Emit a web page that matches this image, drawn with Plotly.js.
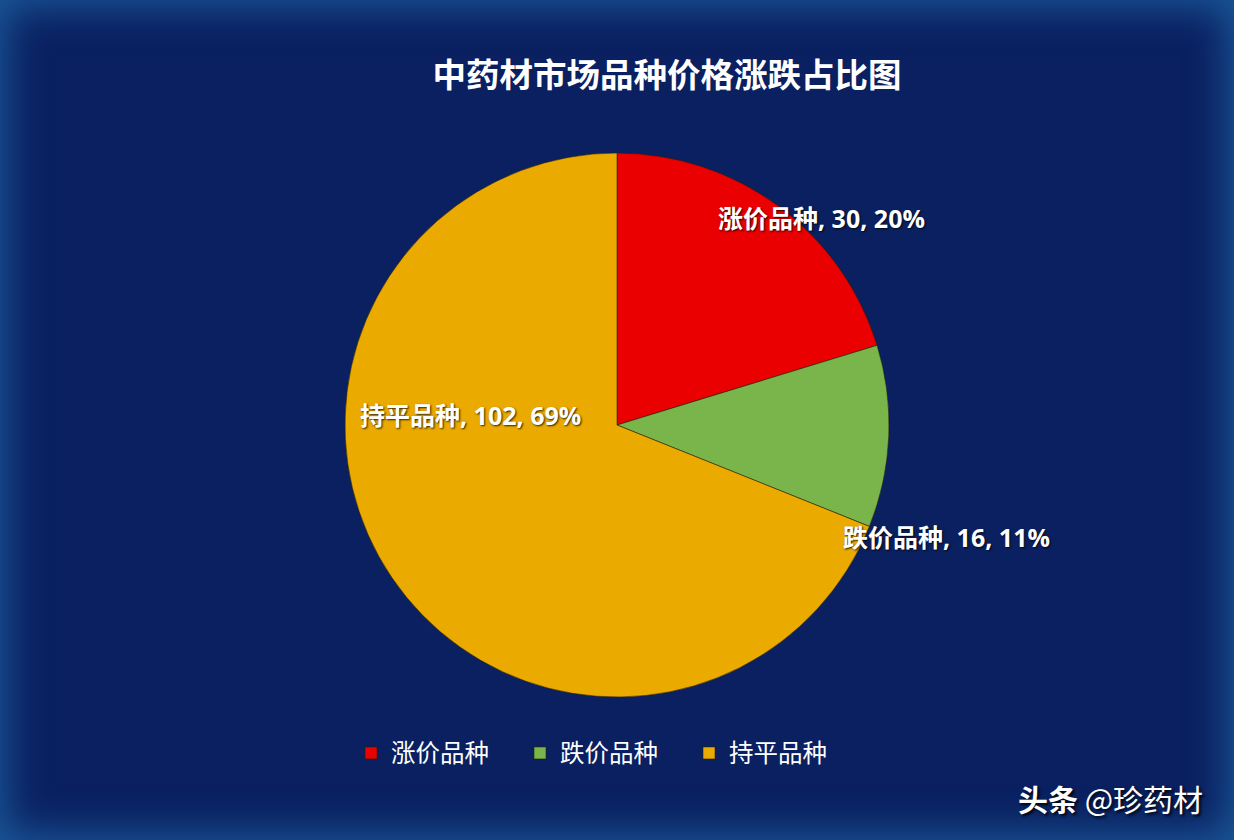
<!DOCTYPE html>
<html>
<head>
<meta charset="utf-8">
<script src="https://cdn.plot.ly/plotly-3.0.1.min.js"></script>
<style>
  html, body { margin: 0; padding: 0; }
  #wrap { position: relative; width: 1234px; height: 840px; background: #0a2060; box-shadow: inset 0 0 40px 6px #1b5a9b; overflow: hidden; }
  #chart { position: absolute; left: 0; top: 0; width: 1234px; height: 840px; }
</style>
</head>
<body>
<div id="wrap"><div id="chart"></div></div>
<script>
const categories = ['涨价品种', '跌价品种', '持平品种'];
const counts = [30, 16, 102];
const percentLabels = ['20%', '11%', '69%'];
const sliceColors = ['#ea0000', '#7ab54c', '#eaaa00'];
const titleText = '中药材市场品种价格涨跌占比图';
const watermarkBold = '头条';
const watermarkRest = '@珍药材';

const labelPos = [[821, 218], [946, 537], [470, 415]];
const W = 1234, H = 840;
const labelFont = '"Open Sans", "Noto Sans CJK SC", sans-serif';

const trace = {
  type: 'pie',
  labels: categories,
  values: counts,
  sort: false,
  direction: 'clockwise',
  rotation: 0,
  textinfo: 'none',
  hoverinfo: 'label+value+percent',
  marker: { colors: sliceColors, line: { color: 'rgba(40,30,0,0.55)', width: 1 } },
  domain: { x: [(617 - 272) / W, (617 + 272) / W], y: [(415 - 272) / H, (415 + 272) / H] }
};

const annotations = categories.map((c, i) => ({
  xref: 'paper', yref: 'paper',
  x: labelPos[i][0] / W, y: 1 - labelPos[i][1] / H,
  xanchor: 'center', yanchor: 'middle',
  showarrow: false,
  text: '<b>' + c + ', ' + counts[i] + ', ' + percentLabels[i] + '</b>',
  font: { family: labelFont, size: 25, color: '#ffffff', shadow: '1px 1px 2px rgba(0,0,0,0.8)' }
}));
annotations.push({
  xref: 'paper', yref: 'paper', x: 1110 / W, y: 1 - 798 / H,
  xanchor: 'center', yanchor: 'middle', showarrow: false,
  text: '<b>' + watermarkBold + '</b> ' + watermarkRest,
  font: { family: '"Noto Sans CJK SC", sans-serif', size: 30, color: '#ffffff', shadow: '2px 2px 3px rgba(0,0,0,0.9)' }
});

const layout = {
  width: W, height: H,
  margin: { l: 0, r: 0, t: 0, b: 0 },
  paper_bgcolor: 'rgba(0,0,0,0)',
  plot_bgcolor: 'rgba(0,0,0,0)',
  title: {
    text: '<b>' + titleText + '</b>',
    x: 667 / W, xanchor: 'center', y: 1 - 75 / H, yanchor: 'middle',
    font: { family: '"Noto Sans CJK SC", sans-serif', size: 33.5, color: '#ffffff' }
  },
  showlegend: true,
  legend: {
    orientation: 'h',
    x: 351 / W, xanchor: 'left',
    y: 1 - 753 / H, yanchor: 'middle',
    bgcolor: 'rgba(0,0,0,0)',
    font: { family: '"Noto Sans CJK SC", sans-serif', size: 24.5, color: '#ffffff' },
    entrywidth: 124, entrywidthmode: 'pixels',
    traceorder: 'normal'
  },
  annotations: annotations
};

Plotly.newPlot('chart', [trace], layout, { displayModeBar: false, staticPlot: true });
</script>
</body>
</html>
